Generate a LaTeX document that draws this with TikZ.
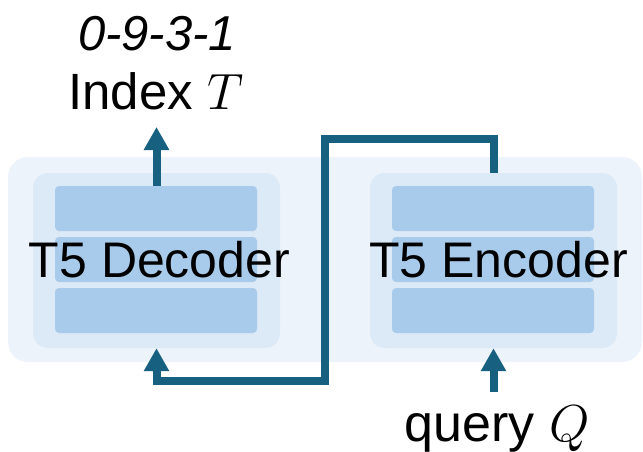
\RequirePackage{fix-cm}
\documentclass[tikz,border=0pt]{standalone}
\usepackage{fontspec}
\setmainfont{Liberation Sans}
\usetikzlibrary{arrows.meta}
\definecolor{panelbg}{HTML}{ECF3FA}
\definecolor{blockbg}{HTML}{DCE9F6}
\definecolor{layerbg}{HTML}{A8CBEB}
\definecolor{wire}{HTML}{17607F}
\tikzset{
  blockbox/.style={fill=blockbg, rounded corners=15pt, minimum width=247pt, minimum height=175pt, inner sep=0pt},
  layerbox/.style={fill=layerbg, rounded corners=4pt, minimum width=202pt, minimum height=45pt, inner sep=0pt},
  label/.style={font=\fontsize{50}{60}\selectfont, inner sep=0pt},
  conn/.style={draw=wire, line width=8pt, -{Triangle[width=24pt,length=23pt]}},
}
\begin{document}
\begin{tikzpicture}[x=1pt,y=-1pt]
\useasboundingbox (0,0) rectangle (643,452);
% shared background panel
\fill[panelbg, rounded corners=20pt] (8,157) rectangle (642,362);
% decoder stack
\node[blockbox] (dec) at (156.5,260.5) {};
\node[layerbox] (d1) at (156,208.5) {};
\node[layerbox] (d2) at (156,259.5) {};
\node[layerbox] (d3) at (156,310.5) {};
\node[label, anchor=base] (dectxt) at (159.5,277) {T5 Decoder};
% encoder stack
\node[blockbox] (enc) at (493.5,260.5) {};
\node[layerbox] (e1) at (493,208.5) {};
\node[layerbox] (e2) at (493,259.5) {};
\node[layerbox] (e3) at (493,310.5) {};
\node[label, anchor=base] (enctxt) at (498.5,277) {T5 Encoder};
% labels
\node[label, anchor=base, font=\fontsize{51}{60}\selectfont] (idx) at (156,110) {Index $T$};
\node[label, anchor=base, font=\fontsize{49}{58}\selectfont\itshape] (code) at (157,51) {0-9-3-1};
\node[label, anchor=base, font=\fontsize{52}{62}\selectfont] (qry) at (497,441) {query $Q$};
% connector end points
\coordinate (out) at (156.5,127);
\coordinate (qin) at (493.5,392);
\coordinate (t1) at (325,139);
\coordinate (t2) at (325,381);
% arrows
\draw[conn] (d1.north -| dec.north) -- (out);
\draw[conn] (qin) -- (enc.south);
\draw[conn] (enc.north) |- (t1) -- (t2) -| (dec.south);
\end{tikzpicture}
\end{document}
